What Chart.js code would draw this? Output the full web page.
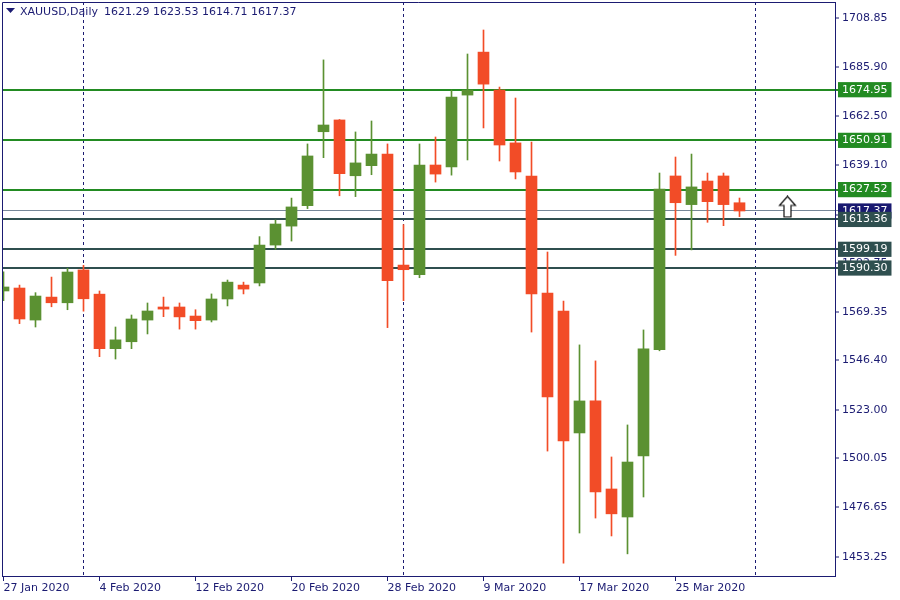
<!DOCTYPE html>
<html><head><meta charset="utf-8">
<script src="https://cdn.jsdelivr.net/npm/chart.js@4/dist/chart.umd.min.js"></script>
<style>html,body{margin:0;padding:0;background:#fff;}canvas{display:block;}</style>
</head><body>
<canvas id="c" width="900" height="600"></canvas>
<script>
// ---------- data ----------
const symbolTitle = 'XAUUSD,Daily';
const lastOHLC = ['1621.29', '1623.53', '1614.71', '1617.37'];
const dates = ['27 Jan 2020','28 Jan 2020','29 Jan 2020','30 Jan 2020','31 Jan 2020',
  '3 Feb 2020','4 Feb 2020','5 Feb 2020','6 Feb 2020','7 Feb 2020','10 Feb 2020','11 Feb 2020','12 Feb 2020',
  '13 Feb 2020','14 Feb 2020','17 Feb 2020','18 Feb 2020','19 Feb 2020','20 Feb 2020','21 Feb 2020',
  '24 Feb 2020','25 Feb 2020','26 Feb 2020','27 Feb 2020','28 Feb 2020',
  '2 Mar 2020','3 Mar 2020','4 Mar 2020','5 Mar 2020','6 Mar 2020','9 Mar 2020','10 Mar 2020','11 Mar 2020',
  '12 Mar 2020','13 Mar 2020','16 Mar 2020','17 Mar 2020','18 Mar 2020','19 Mar 2020','20 Mar 2020',
  '23 Mar 2020','24 Mar 2020','25 Mar 2020','26 Mar 2020','27 Mar 2020','30 Mar 2020','31 Mar 2020'];
const openP  = [1579.4,1580.8,1565.6,1576.5,1573.8,1589.4,1577.9,1552.0,1555.3,1565.6,1571.8,1571.8,1567.5,
  1565.6,1575.6,1582.2,1583.2,1601.2,1610.2,1619.9,1655.0,1660.6,1634.1,1638.9,1644.4,1591.7,1587.1,1639.2,
  1638.3,1672.4,1692.8,1674.8,1649.7,1634.0,1578.4,1569.9,1512.0,1527.2,1485.4,1472.1,1501.1,1551.5,1634.0,
  1620.4,1631.6,1634.0,1621.29];
const highP  = [1588.5,1582.2,1578.6,1586.0,1590.2,1591.6,1579.4,1562.3,1568.0,1573.7,1576.5,1573.7,1570.5,
  1578.0,1584.6,1583.6,1605.2,1613.1,1623.5,1649.2,1689.1,1660.8,1654.9,1660.1,1649.2,1610.9,1649.2,1652.5,
  1674.8,1691.9,1703.3,1676.2,1671.0,1650.1,1597.9,1574.6,1553.8,1546.2,1500.6,1515.8,1560.9,1635.4,1643.0,
  1644.4,1635.4,1635.4,1623.53];
const lowP   = [1574.8,1563.9,1562.3,1571.9,1570.5,1569.8,1548.2,1547.1,1552.0,1559.0,1567.2,1561.3,1561.3,
  1564.7,1572.3,1578.0,1581.8,1599.2,1603.1,1618.5,1642.7,1624.6,1624.2,1634.6,1562.0,1574.8,1585.7,1631.1,
  1634.4,1641.6,1656.8,1641.1,1632.6,1559.9,1503.4,1450.2,1464.5,1471.6,1463.1,1454.6,1481.6,1551.0,1596.3,
  1598.9,1612.0,1610.4,1614.71];
const closeP = [1581.3,1566.1,1577.0,1573.8,1588.4,1575.7,1552.0,1556.2,1566.1,1569.9,1570.8,1567.1,1565.3,
  1575.6,1583.6,1580.3,1601.2,1611.2,1619.3,1643.5,1658.2,1635.1,1640.2,1644.4,1584.3,1589.5,1639.2,1634.9,
  1671.5,1674.8,1677.6,1648.7,1635.9,1578.0,1529.1,1508.2,1527.2,1484.0,1473.6,1498.2,1551.9,1627.8,1621.3,
  1628.8,1621.8,1620.4,1617.37];
const xTickIdx = [0, 6, 12, 18, 24, 30, 36, 42];
const separatorIdx = [5, 25, 47];
const priceTicks = [1708.85,1685.90,1662.50,1639.10,1615.70,1592.75,1569.35,1546.40,1523.00,1500.05,1476.65,1453.25];
const resistanceLevels = [1674.95, 1650.91, 1627.52];
const currentPrice = 1617.37;
const supportLevels = [1613.36, 1599.19, 1590.30];
const signalX = [49];
const signalY = [1619.3];

// ---------- styles ----------
const NAVY = '#1b1b72';
const BULL = '#5b9132';
const BEAR = '#f24c27';
const RES = '#228b22';
const SUP = '#2f4f4f';
const CUR_LINE = '#778899';
const CUR_BG = '#191970';
const X_MIN = -0.09375, X_MAX = 51.96875;
const Y_MIN = 1444.09, Y_MAX = 1716.59;

Chart.defaults.font.family = 'DejaVu Sans';
Chart.defaults.font.size = 11;

const n = dates.length;
const bodies = [], wicks = [], colors = [];
for (let i = 0; i < n; i++) {
  bodies.push({x: i, y: [openP[i], closeP[i]]});
  wicks.push({x: i, y: [lowP[i], highP[i]]});
  colors.push(closeP[i] >= openP[i] ? BULL : BEAR);
}

function kindOf(ctx) {
  if (!ctx || !ctx.tick) return 'std';
  const v = ctx.tick.value;
  if (resistanceLevels.includes(v)) return 'res';
  if (supportLevels.includes(v)) return 'sup';
  if (v === currentPrice) return 'cur';
  return 'std';
}
const yTicks = [
  ...priceTicks.map(v => ({value: v})),
  ...resistanceLevels.map(v => ({value: v})),
  {value: currentPrice},
  ...supportLevels.map(v => ({value: v}))
];

function makeArrow() {
  const c = document.createElement('canvas');
  c.width = 19; c.height = 23;
  const g = c.getContext('2d');
  g.beginPath();
  g.moveTo(9.5, 1); g.lineTo(17.5, 10); g.lineTo(13, 10); g.lineTo(13, 21.5);
  g.lineTo(6, 21.5); g.lineTo(6, 10); g.lineTo(1.5, 10); g.closePath();
  g.fillStyle = '#ffffff'; g.fill();
  g.strokeStyle = '#111111'; g.lineWidth = 1.2; g.stroke();
  return c;
}

const framePlugin = {
  id: 'frame',
  afterDraw(chart) {
    const {ctx, chartArea: a} = chart;
    ctx.save();
    ctx.strokeStyle = NAVY; ctx.lineWidth = 1;
    ctx.beginPath();
    ctx.moveTo(a.left + 0.5, a.bottom); ctx.lineTo(a.left + 0.5, a.top + 0.5); ctx.lineTo(a.right, a.top + 0.5);
    ctx.stroke();
    // header
    ctx.fillStyle = NAVY;
    ctx.beginPath(); ctx.moveTo(6, 8); ctx.lineTo(15, 8); ctx.lineTo(10.5, 13); ctx.closePath(); ctx.fill();
    ctx.font = '11px "DejaVu Sans"';
    ctx.textBaseline = 'middle'; ctx.textAlign = 'left';
    ctx.fillText(symbolTitle, 20, 12);
    ctx.fillText(lastOHLC.join(' '), 104, 12);
    ctx.restore();
  }
};

new Chart(document.getElementById('c'), {
  type: 'bar',
  data: {
    datasets: [
      {type: 'scatter', data: signalX.map((x, i) => ({x, y: signalY[i]})), pointStyle: makeArrow(), pointRadius: 10, xAxisID: 'x', yAxisID: 'y'},
      {label: 'body', data: bodies, backgroundColor: colors, borderWidth: 0, barThickness: 11, grouped: false, clip: 0, xAxisID: 'x', yAxisID: 'y', minBarLength: 1},
      {label: 'wick', data: wicks, backgroundColor: colors, borderWidth: 0, barThickness: 1, grouped: false, clip: 0, xAxisID: 'x', yAxisID: 'y'}
    ]
  },
  options: {
    responsive: false, animation: false, events: [], devicePixelRatio: 1,
    layout: {autoPadding: false, padding: {left: 2, top: 2, right: 0, bottom: 0}},
    plugins: {legend: {display: false}, tooltip: {enabled: false}, title: {display: false}},
    scales: {
      x: {
        type: 'linear', min: X_MIN, max: X_MAX, position: 'bottom', offset: false,
        afterBuildTicks: s => { s.ticks = xTickIdx.map(v => ({value: v})); },
        afterFit: s => { s.height = 24; s.paddingLeft = 0; s.paddingRight = 0; },
        ticks: {autoSkip: false, maxRotation: 0, minRotation: 0, align: 'start', padding: 1, color: NAVY,
          callback: v => dates[v]},
        grid: {offset: false, drawOnChartArea: false, drawTicks: true, tickLength: 5, color: NAVY, lineWidth: 1},
        border: {display: true, color: NAVY, width: 1}
      },
      xs: {
        type: 'linear', min: X_MIN, max: X_MAX, position: 'bottom', display: true, offset: false,
        afterBuildTicks: s => { s.ticks = separatorIdx.map(v => ({value: v})); },
        afterFit: s => { s.height = 0; s.paddingLeft = 0; s.paddingRight = 0; },
        ticks: {display: false},
        grid: {offset: false, drawOnChartArea: true, drawTicks: false, color: NAVY, lineWidth: 1, borderDash: [3, 3]},
        border: {display: false, dash: [3, 3]}
      },
      y: {
        type: 'linear', min: Y_MIN, max: Y_MAX, position: 'right',
        afterBuildTicks: s => { s.ticks = yTicks.map(t => ({value: t.value})); },
        afterFit: s => { s.width = 65; s.paddingTop = 0; s.paddingBottom = 0; },
        ticks: {
          autoSkip: false, padding: 3, crossAlign: 'near',
          callback: v => Number(v).toFixed(2),
          color: c => kindOf(c) === 'std' ? NAVY : '#ffffff',
          showLabelBackdrop: c => kindOf(c) !== 'std',
          backdropColor: c => ({res: RES, sup: SUP, cur: CUR_BG})[kindOf(c)] || 'rgba(0,0,0,0)',
          backdropPadding: {left: 4, right: 4, top: 1, bottom: 1}
        },
        grid: {
          drawOnChartArea: true, drawTicks: true, tickLength: 4,
          color: c => ({res: RES, sup: SUP, cur: CUR_LINE})[kindOf(c)] || 'rgba(0,0,0,0)',
          lineWidth: c => ({res: 2, sup: 2, cur: 1})[kindOf(c)] || 0,
          tickColor: c => ({res: RES, sup: SUP, cur: CUR_LINE})[kindOf(c)] || NAVY,
          tickWidth: c => ({res: 2, sup: 2, cur: 1})[kindOf(c)] || 1
        },
        border: {display: true, color: NAVY, width: 1}
      }
    }
  },
  plugins: [framePlugin]
});
</script>
</body></html>
